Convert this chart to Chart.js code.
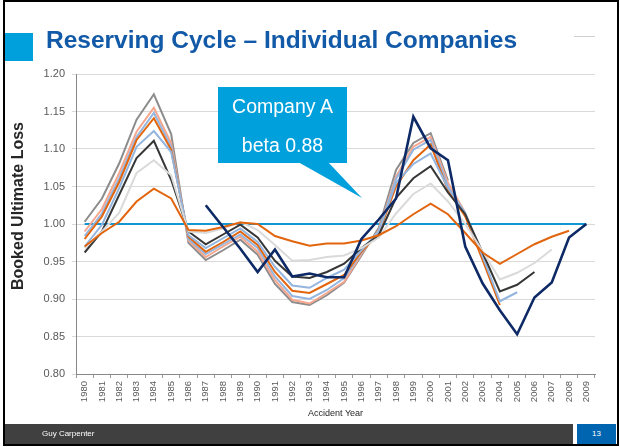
<!DOCTYPE html>
<html><head><meta charset="utf-8">
<script src="https://cdn.jsdelivr.net/npm/chart.js@4.4.0/dist/chart.umd.min.js"></script>
<style>
html,body{margin:0;padding:0;width:620px;height:447px;overflow:hidden;background:#fff;font-family:"Liberation Sans",Arial,sans-serif;}
#frame{position:absolute;left:3px;top:0;width:612px;height:442px;border:2px solid #000;pointer-events:none;}
#wrap{position:absolute;left:0;top:0;width:620px;height:447px;}
#sq{position:absolute;left:5px;top:33px;width:28px;height:28px;background:#00a0dc;}
#title{position:absolute;left:46px;top:26px;font-size:24.5px;font-weight:bold;color:#1259a7;white-space:nowrap;}
#dash{position:absolute;left:574px;top:36px;width:21px;height:1px;background:#d0d0d0;}
#ytitle{position:absolute;left:18px;top:206px;transform:translate(-50%,-50%) rotate(-90deg);font-size:16px;font-weight:bold;color:#262626;white-space:nowrap;}
#callout{position:absolute;left:218px;top:87px;width:129px;height:76px;background:#00a0dc;color:#fff;font-size:19.5px;text-align:center;}
#callout div{position:absolute;left:0;width:100%;}
#ptr{position:absolute;left:0;top:0;}
#foot{position:absolute;left:5px;top:424px;width:568px;height:20px;background:#404040;color:#fff;font-size:8px;}
#foot span{position:absolute;left:37px;top:5px;}
#pg{position:absolute;left:577px;top:424px;width:39px;height:20px;background:#0065b0;color:#fff;font-size:8px;text-align:center;line-height:20px;}
</style></head><body>
<div id="wrap"><canvas id="c" width="620" height="447"></canvas></div>
<div id="sq"></div>
<div id="title">Reserving Cycle – Individual Companies</div>
<div id="dash"></div>
<div id="ytitle">Booked Ultimate Loss</div>
<svg id="ptr" width="620" height="447"><polygon points="298,162 328,162 362,198" fill="#00a0dc"/></svg>
<div id="callout"><div style="top:8px">Company A</div><div style="top:47px">beta 0.88</div></div>
<div id="foot"><span>Guy Carpenter</span></div>
<div id="pg">13</div>
<div id="frame"></div>
<script>
const years = ['1980','1981','1982','1983','1984','1985','1986','1987','1988','1989','1990','1991','1992','1993','1994','1995','1996','1997','1998','1999','2000','2001','2002','2003','2004','2005','2006','2007','2008','2009'];
const yTicks = [0.80,0.85,0.90,0.95,1.00,1.05,1.10,1.15,1.20];
const companyA = [null,null,null,null,null,null,null,1.025,0.996,0.967,0.936,0.966,0.930,0.934,0.929,0.929,0.980,1.006,1.034,1.143,1.101,1.085,0.970,0.921,0.885,0.853,0.902,0.922,0.982,1.000];
const seriesGray = [1.003,1.034,1.081,1.139,1.173,1.120,0.975,0.952,0.965,0.979,0.959,0.920,0.896,0.892,0.905,0.922,0.958,0.995,1.072,1.108,1.121,1.058,null,null,null,null,null,null,null,null];
const seriesSalmon = [0.990,1.020,1.068,1.123,1.155,1.108,0.978,0.956,0.970,0.983,0.963,0.925,0.899,0.894,0.908,0.923,0.960,0.992,1.063,1.103,1.116,1.055,1.015,null,null,null,null,null,null,null];
const seriesBlue1 = [0.984,1.014,1.061,1.116,1.148,1.103,0.980,0.960,0.973,0.986,0.968,0.930,0.904,0.900,0.912,0.928,0.962,0.990,1.060,1.099,1.112,1.050,1.012,0.955,null,null,null,null,null,null];
const seriesOrange1 = [0.980,1.010,1.056,1.112,1.141,1.099,0.983,0.963,0.976,0.990,0.972,0.936,0.911,0.908,0.920,0.932,0.963,0.988,1.050,1.085,1.106,1.045,1.010,0.952,0.892,null,null,null,null,null];
const seriesBlue2 = [0.970,0.999,1.048,1.103,1.124,1.096,0.985,0.968,0.981,0.994,0.976,0.943,0.918,0.915,0.928,0.939,0.965,0.990,1.055,1.080,1.094,1.048,1.015,0.957,0.897,0.909,null,null,null,null];
const seriesCharcoal = [0.962,0.990,1.039,1.088,1.111,1.059,0.990,0.973,0.986,0.999,0.982,0.951,0.930,0.928,0.936,0.947,0.968,0.985,1.035,1.061,1.077,1.042,1.013,0.962,0.910,0.919,0.936,null,null,null];
const seriesLightGray = [0.968,0.990,1.015,1.068,1.085,1.065,0.990,0.988,0.994,1.003,0.992,0.972,0.951,0.952,0.956,0.958,0.968,0.982,1.014,1.040,1.054,1.030,1.000,0.964,0.926,0.935,0.948,0.966,null,null];
const seriesOrange2 = [0.970,0.988,1.003,1.030,1.047,1.034,0.992,0.991,0.996,1.002,1.000,0.984,0.977,0.971,0.974,0.974,0.978,0.985,0.997,1.013,1.027,1.013,0.988,0.962,0.947,0.960,0.973,0.983,0.991,null];
const baseline = [1.00,1.00,1.00,1.00,1.00,1.00,1.00,1.00,1.00,1.00,1.00,1.00,1.00,1.00,1.00,1.00,1.00,1.00,1.00,1.00,1.00,1.00,1.00,1.00,1.00,1.00,1.00,1.00,1.00,1.00];

function ds(data, color, w){ return {data, borderColor:color, backgroundColor:color, borderWidth:w, pointRadius:0, tension:0, fill:false, spanGaps:false}; }

new Chart(document.getElementById('c'), {
  type:'line',
  data:{labels:years, datasets:[
    ds(companyA,'#0d2a66',2.6),
    ds(seriesOrange2,'#e2650e',2),
    ds(seriesLightGray,'#dadada',2),
    ds(seriesCharcoal,'#363636',2),
    ds(seriesBlue2,'#93b5de',2),
    ds(seriesOrange1,'#e2650e',2),
    ds(seriesBlue1,'#93b5de',2),
    ds(seriesSalmon,'#f6a68c',2),
    ds(seriesGray,'#8c8c8c',2),
    ds(baseline,'#1296d4',2)
  ]},
  options:{
    responsive:false, animation:false, devicePixelRatio:1,
    layout:{padding:{left:8,top:74,right:25,bottom:24}},
    plugins:{legend:{display:false}, tooltip:{enabled:false}},
    scales:{
      x:{
        offset:true,
        grid:{display:true, drawOnChartArea:false, drawTicks:true, tickLength:4, offset:true, color:'#9a9a9a'},
        border:{display:true, color:'#888888', width:1},
        ticks:{autoSkip:false, maxRotation:90, minRotation:90, padding:3, color:'#595959', font:{family:'Liberation Sans', size:9.5}},
        title:{display:true, text:'Accident Year', color:'#262626', font:{family:'Liberation Sans', size:9}, padding:{top:2,bottom:4}},
        afterFit:(s)=>{ s.height = 49; }
      },
      y:{
        min:0.8, max:1.2,
        afterBuildTicks:(s)=>{ s.ticks = yTicks.map(v=>({value:v})); },
        grid:{color:'#d9d9d9', tickLength:4, drawTicks:true},
        border:{display:true, color:'#888888', width:1},
        ticks:{padding:7, color:'#595959', font:{family:'Liberation Sans', size:11}, callback:(v)=>Number(v).toFixed(2)},
        title:{display:false},
        afterFit:(s)=>{ s.width = 68; }
      }
    }
  }
});
</script>
</body></html>
